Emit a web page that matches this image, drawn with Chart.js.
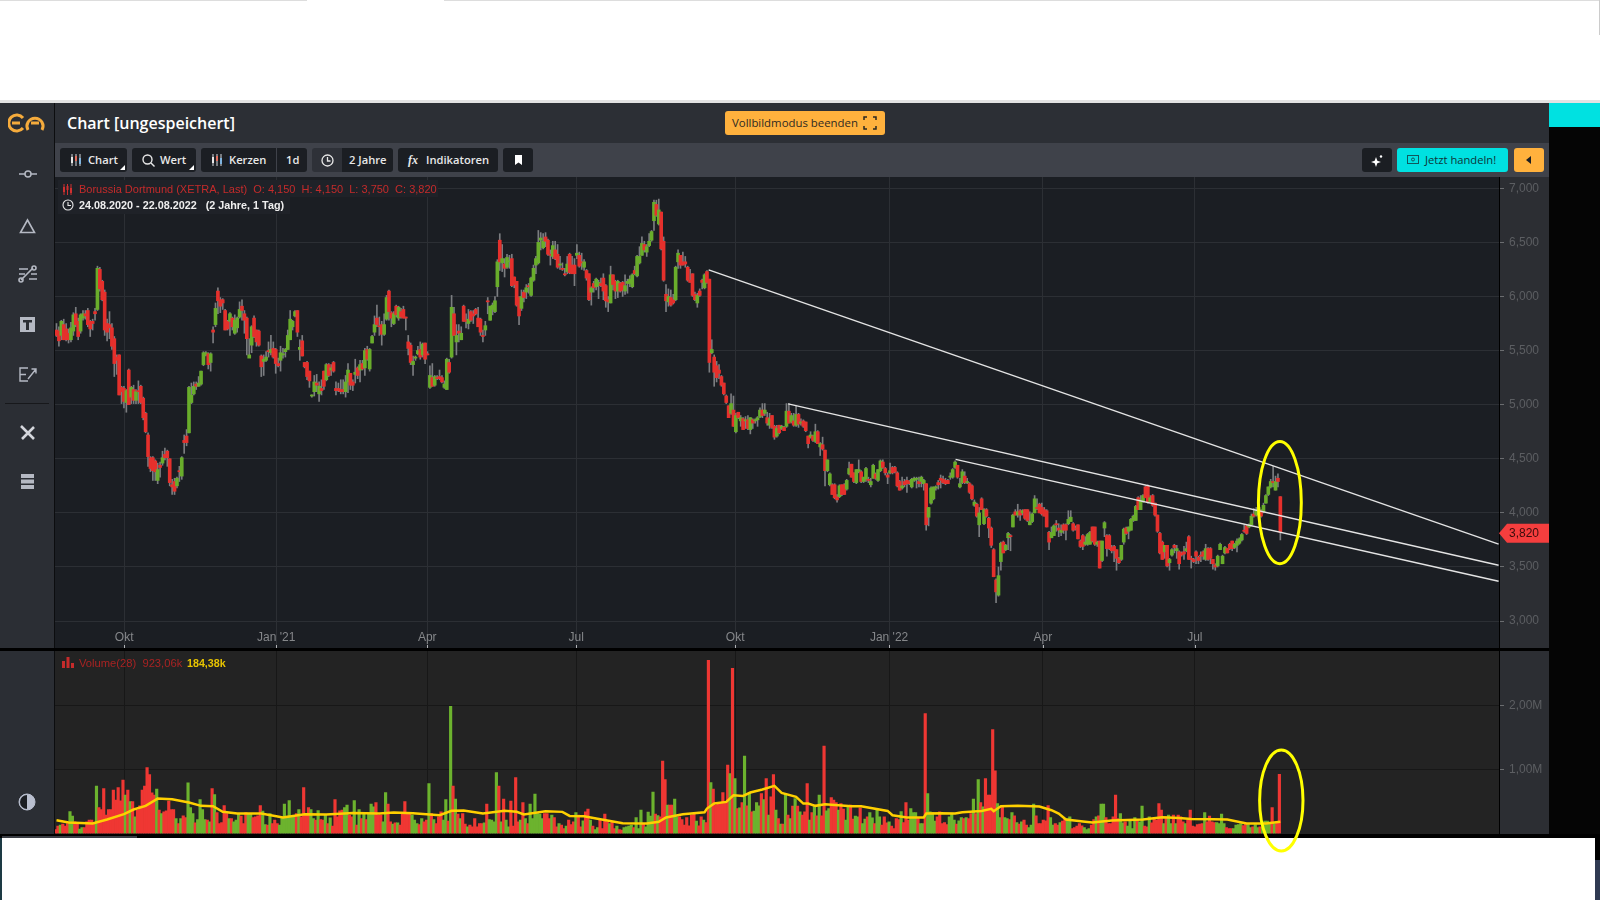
<!DOCTYPE html>
<html>
<head>
<meta charset="utf-8">
<title>Borussia Dortmund</title>
<script src="https://cdn.jsdelivr.net/npm/chart.js@4"></script>
<style>
    html, body { margin: 0; padding: 0; background: #fff; overflow: hidden; }
    body { width: 1600px; height: 900px; position: relative; font-family: "Liberation Sans", Arial, sans-serif; }
    .box { position: absolute; }
    .btn { position: absolute; top: 148px; height: 24px; line-height: 24px; background: #1b1e23; color: #e8e8e8; border-radius: 3px;
           font: 600 11.2px/24px "Open Sans", sans-serif; box-sizing: border-box; white-space: nowrap; }
    .btn svg, .side svg { position: absolute; }
    .corner::after { content: ""; position: absolute; right: 2px; bottom: 2px; border-left: 5px solid transparent; border-bottom: 5px solid #fff; }
    .lab { position: absolute; white-space: pre; }
    canvas { position: absolute; }
</style>
</head>
<body>

<!-- page frame -->
<div class="box" style="left:0;top:0;width:307px;height:1px;background:#ddd"></div>
<div class="box" style="left:444px;top:0;width:1156px;height:1px;background:#ddd"></div>
<div class="box" style="left:1599px;top:0;width:1px;height:35px;background:#ccc"></div>
<div class="box" style="left:0;top:100px;width:1600px;height:3px;background:#e2e2e2"></div>
<div class="box" style="left:54px;top:103px;width:1495px;height:40px;background:#2c2f35"></div>
<div class="box" style="left:54px;top:143px;width:1495px;height:34px;background:#3f424a"></div>
<div class="box" style="left:1549px;top:103px;width:51px;height:735px;background:#050505"></div>
<div class="box" style="left:1549px;top:103px;width:51px;height:24px;background:#00e1e1"></div>
<div class="box" style="left:0;top:103px;width:54px;height:731px;background:#2b2e34"></div>
<div class="box" style="left:54px;top:103px;width:1px;height:731px;background:#0c0d0f"></div>
<div class="box" style="left:55px;top:177px;width:1444px;height:471px;background:#1b1e23"></div>
<div class="box" style="left:1499px;top:177px;width:50px;height:471px;background:#2c2e33"></div>
<div class="box" style="left:0;top:648px;width:1549px;height:3px;background:#000"></div>
<div class="box" style="left:55px;top:651px;width:1444px;height:183px;background:#232323"></div>
<div class="box" style="left:1499px;top:651px;width:50px;height:183px;background:#2c2e33"></div>
<div class="box" style="left:0;top:834px;width:1600px;height:4px;background:#000"></div>
<div class="box" style="left:2px;top:836px;width:135px;height:2px;background:#3a3d44"></div>
<div class="box" style="left:0;top:838px;width:2px;height:62px;background:#1d3a44"></div>
<div class="box" style="left:1595px;top:838px;width:5px;height:22px;background:#000"></div>
<div class="box" style="left:1595px;top:860px;width:5px;height:40px;background:#2f3a52"></div>

<!-- side bar -->
<div class="side">
    <svg style="left:8px;top:113px" width="38" height="20" viewBox="0 0 38 20" fill="none" stroke="#f5ab3c" stroke-width="3">
        <path d="M15 5 A8 8 0 1 0 15 15 M4 10 H12"/><path d="M20 17 A8 8 0 1 1 34 17 M23 10 H31"/>
    </svg>
    <svg style="left:18px;top:168px" width="20" height="12" fill="none" stroke="#b5b9c3" stroke-width="1.5"><path d="M1 6H7M13 6H19"/><circle cx="10" cy="6" r="3"/></svg>
    <svg style="left:19px;top:218px" width="17" height="16" fill="none" stroke="#b5b9c3" stroke-width="1.6"><path d="M8.5 2 L15.5 14.5 H1.5 Z"/></svg>
    <svg style="left:18px;top:265px" width="20" height="18" fill="none" stroke="#b5b9c3" stroke-width="1.6"><path d="M1 4H10M1 9H7M11 14H19M13 9H19M3 15L15 3"/><circle cx="16" cy="3" r="2"/><circle cx="3" cy="15" r="2"/></svg>
    <svg style="left:20px;top:317px" width="15" height="15"><rect width="15" height="15" fill="#b5b9c3"/><path d="M3 3H12V5.5H9V13H6V5.5H3Z" fill="#2b2e34"/></svg>
    <svg style="left:19px;top:367px" width="18" height="15" fill="none" stroke="#b5b9c3" stroke-width="1.4"><path d="M9 1H1V14H9M1 7.5H7M9 12L17 2M12.5 2H17V6.5"/></svg>
    <div class="box" style="left:5px;top:403px;width:44px;height:1px;background:#17181b"></div>
    <svg style="left:19px;top:424px" width="17" height="17" fill="none" stroke="#d4d6dc" stroke-width="2.6"><path d="M2 2L15 15M15 3L3 15"/></svg>
    <svg style="left:21px;top:474px" width="13" height="15" fill="#b5b9c3"><rect width="13" height="4"/><rect y="5.5" width="13" height="4"/><rect y="11" width="13" height="4"/></svg>
    <svg style="left:18px;top:793px" width="18" height="18"><circle cx="9" cy="9" r="8" fill="#b9bfcf" stroke="#b9bfcf"/><path d="M9 2 A7 7 0 0 0 9 16 Z" fill="#1b1e23"/></svg>
</div>

<!-- header -->
<div class="lab" style="left:67px;top:111px;color:#fff;font:600 16px/24px 'Open Sans',sans-serif">Chart [ungespeichert]</div>
<div class="box" style="left:725px;top:111px;width:160px;height:24px;background:#ffb13d;border-radius:3px;color:#2f2a22;font:500 11.4px/24px 'Open Sans',sans-serif;text-indent:7px">Vollbildmodus beenden
    <svg style="position:absolute;left:138px;top:5px" width="14" height="14" fill="none" stroke="#2b2721" stroke-width="1.5"><path d="M1 4V1H4M10 1H13V4M13 10V13H10M4 13H1V10"/></svg>
</div>

<!-- tool bar -->
<svg width="0" height="0" style="position:absolute"><symbol id="candles" viewBox="0 0 12 12"><path d="M2 0V12M6 0V12M10 0V12" stroke="#d6d8de"/><path d="M1 3H3V9H1Z" fill="#e8e8e8"/><path d="M5 2H7V7H5Z" fill="#e06c5c"/><path d="M9 4H11V10H9Z" fill="#7fb4e0"/></symbol></svg>
<div class="btn corner" style="left:60px;width:67px;padding-left:28px"><svg style="left:10px;top:6px" width="12" height="12"><use href="#candles"/></svg>Chart</div>
<div class="btn corner" style="left:132px;width:64px;padding-left:28px"><svg style="left:10px;top:6px" width="13" height="13" fill="none" stroke="#e8e8e8" stroke-width="1.4"><circle cx="5.5" cy="5.5" r="4.5"/><path d="M9 9L12.5 12.5"/></svg>Wert</div>
<div class="btn" style="left:201px;width:76px;padding-left:28px;border-radius:3px 0 0 3px;border-right:1px solid #3f424a"><svg style="left:10px;top:6px" width="12" height="12"><use href="#candles"/></svg>Kerzen</div>
<div class="btn" style="left:277px;width:30px;padding-left:9px;border-radius:0 3px 3px 0">1d</div>
<div class="btn" style="left:312px;width:30px;background:#2e3138;border-radius:3px 0 0 3px"><svg style="left:9px;top:6px" width="13" height="13" fill="none" stroke="#e8e8e8" stroke-width="1.3"><circle cx="6.5" cy="6.5" r="5.5"/><path d="M6.5 3V7H9.5"/></svg></div>
<div class="btn" style="left:342px;width:51px;padding-left:7px;border-radius:0 3px 3px 0">2 Jahre</div>
<div class="btn" style="left:398px;width:100px;padding-left:28px"><span style="position:absolute;left:10px;font:italic 700 12px/24px 'Liberation Serif',serif">fx</span>Indikatoren</div>
<div class="btn" style="left:503px;width:30px"><svg style="left:12px;top:7px" width="7" height="10"><path d="M0 0H7V10L3.5 7.5L0 10Z" fill="#fff"/></svg></div>
<div class="btn" style="left:1362px;width:30px"><svg style="left:8px;top:6px" width="13" height="13" fill="#fff"><path d="M6 3L7.3 6.7L11 8L7.3 9.3L6 13L4.7 9.3L1 8L4.7 6.7Z"/><circle cx="11" cy="2.5" r="1.2"/></svg></div>
<div class="btn" style="left:1397px;width:111px;background:#00e1e1;color:#0f3438;padding-left:28px;font-weight:500"><svg style="left:10px;top:7px" width="12" height="10" fill="none" stroke="#10585c"><rect x=".5" y=".5" width="11" height="8"/><circle cx="6" cy="4.5" r="1.5"/></svg>Jetzt handeln!</div>
<div class="btn" style="left:1514px;width:30px;background:#ffb13d"><svg style="left:12px;top:8px" width="5" height="8"><path d="M5 0V8L0 4Z" fill="#1b1e23"/></svg></div>

<canvas id="price-chart" style="left:55px;top:177px;width:1494px;height:471px" width="1494" height="471"></canvas>
<canvas id="volume-chart" style="left:55px;top:651px;width:1494px;height:202px" width="1494" height="202"></canvas>

<!-- legends -->
<div class="box" style="left:58px;top:180px;width:380px;height:17px;background:#1f2228"></div>
<div class="box" style="left:58px;top:197px;width:232px;height:17px;background:#1f2228"></div>
<svg style="position:absolute;left:62px;top:184px" width="11" height="11"><path d="M2 0V11M5.5 0V11M9 0V11" stroke="#d03030"/><path d="M1 3H3V8H1ZM4.5 2H6.5V6H4.5ZM8 4H10V9H8Z" fill="#d03030"/></svg>
<div class="lab" style="left:79px;top:182px;color:#c52b2b;font:11px/14px 'Liberation Sans',sans-serif">Borussia Dortmund (XETRA, Last)  O: 4,150  H: 4,150  L: 3,750  C: 3,820</div>
<svg style="position:absolute;left:62px;top:199px" width="12" height="12" fill="none" stroke="#e8e8e8" stroke-width="1.1"><circle cx="6" cy="6" r="5"/><path d="M6 3V6.5H9"/></svg>
<div class="lab" style="left:79px;top:198px;color:#eee;font:700 10.8px/14px 'Liberation Sans',sans-serif">24.08.2020 - 22.08.2022   (2 Jahre, 1 Tag)</div>
<svg style="position:absolute;left:62px;top:657px" width="12" height="11" fill="#c52b2b"><rect y="4" width="3" height="7"/><rect x="4.5" width="3" height="11"/><rect x="9" y="6" width="3" height="5"/></svg>
<div class="lab" style="left:79px;top:656px;color:#a82323;font:11.2px/14px 'Liberation Sans',sans-serif">Volume(28)  923,06k</div>
<div class="lab" style="left:187px;top:656px;color:#e8c400;font:700 10.7px/14px 'Liberation Sans',sans-serif">184,38k</div>

<script>
// prices in cents, one entry per trading day from 24.08.2020 to 22.08.2022
const opens = [
    569,568,564,574,570,566,560,568,584,577, 568,580,584,587,577,577,586,588,625,614,
    604,575,574,571,561,544,546,516,515,502, 532,507,514,504,513,517,506,492,472,451,
    451,448,430,444,446,454,457,450,426,429, 425,439,434,467,471,474,502,510,519,517,
    519,537,546,547,539,569,574,605,597,597, 587,577,577,580,566,571,581,591,584,580,
    543,555,580,569,568,545,540,541,550,548, 552,551,538,541,546,549,551,560,572,582,
    587,551,559,539,539,531,508,512,520,510, 515,531,523,537,532,539,515,515,514,514,
    512,521,529,521,528,534,532,538,534,551, 533,557,567,580,573,574,565,579,605,585,
    575,591,580,586,588,581,558,555,537,543, 547,551,546,557,547,516,525,518,525,526,
    525,516,514,539,544,584,558,568,560,591, 578,575,586,584,588,580,579,564,569,596,
    578,588,586,609,652,631,630,627,632,635, 618,614,599,589,604,604,610,601,615,629,
    631,652,645,655,652,639,637,643,639,629, 626,621,623,639,629,629,638,638,632,627,
    624,621,604,612,609,610,612,617,610,597, 594,620,614,605,612,613,605,612,612,609,
    624,619,631,638,648,641,647,652,670,685, 667,678,651,602,595,599,597,597,632,638,
    632,632,627,615,621,602,594,605,615,608, 623,616,548,544,536,532,526,520,508,499,
    492,495,475,493,485,487,485,486,477,486, 485,486,489,495,492,488,481,490,480,471,
    481,478,479,480,494,484,485,481,491,483, 485,484,471,470,471,466,475,461,463,458,
    439,426,426,426,415,415,426,426,422,436, 445,437,428,438,438,429,431,431,426,432,
    436,430,439,447,441,435,437,442,442,437, 429,423,429,430,429,424,430,431,429,429,
    427,427,396,409,413,423,428,432,431,430, 430,433,433,442,444,424,428,434,428,427,
    425,407,408,389,413,390,403,395,386,366, 338,324,355,373,366,377,379,387,401,398,
    402,400,403,403,389,392,400,405,408,405, 403,402,382,377,379,390,386,382,389,389,
    390,392,390,386,389,374,379,371,371,371, 387,387,371,374,356,386,379,379,368,369,
    366,358,357,373,386,383,384,393,393,414, 403,410,424,425,410,416,409,398,381,373,
    364,370,354,361,370,365,364,363,364,365, 378,358,357,364,359,361,364,357,367,367,
    357,352,351,366,353,363,367,371,374,368, 370,372,375,384,388,387,389,399,398,401,
    402,401,409,417,424,429,421,432,415
];
const highs = [
    575,572,578,579,575,570,576,585,590,580, 584,587,587,589,578,579,589,628,627,615,
    606,579,586,575,563,546,546,517,517,514, 533,517,518,514,522,518,507,493,474,452,
    452,449,446,447,457,460,458,450,431,432, 433,443,452,472,477,517,520,521,521,526,
    531,549,549,548,548,572,594,608,599,598, 588,578,585,581,583,581,595,597,587,581,
    561,573,582,569,569,546,546,549,558,564, 558,552,543,554,552,552,569,587,578,587,
    587,560,564,539,540,531,509,527,528,521, 523,531,538,538,537,540,521,520,523,523,
    527,538,529,523,542,535,541,541,552,554, 552,564,582,592,581,577,584,601,606,586,
    586,592,591,589,591,581,564,557,545,545, 554,558,557,557,549,536,538,527,527,532,
    527,522,543,542,601,590,574,574,572,592, 584,588,587,587,589,590,580,569,577,599,
    591,594,600,634,658,648,635,639,638,639, 618,614,600,606,606,611,612,618,629,637,
    661,659,658,659,653,643,651,651,648,637, 631,626,637,640,637,635,648,641,640,634,
    625,621,609,614,617,615,617,621,611,600, 628,620,615,615,613,614,620,616,619,621,
    628,638,646,655,651,648,658,661,689,689, 690,678,655,611,607,606,602,628,643,638,
    641,637,628,625,621,604,603,607,616,621, 624,616,560,546,540,537,527,520,509,499,
    510,508,492,493,490,488,489,490,488,487, 487,489,497,501,501,493,492,490,481,481,
    481,481,480,501,501,492,492,499,492,487, 486,484,471,475,472,482,476,465,470,458,
    449,437,427,427,417,426,426,427,431,447, 445,437,440,449,439,433,442,433,432,445,
    437,440,449,449,442,437,446,443,443,438, 430,433,431,433,430,432,433,433,433,434,
    431,427,405,424,424,425,430,435,434,432, 431,437,441,448,444,432,440,438,432,428,
    426,412,409,405,414,404,404,396,387,367, 339,350,373,374,371,382,380,399,403,408,
    403,403,403,403,401,400,416,413,409,409, 405,403,383,387,389,393,390,389,390,390,
    402,402,391,388,389,375,380,378,381,383, 387,387,374,374,374,392,380,380,370,370,
    366,359,370,386,387,387,395,398,407,415, 416,417,425,426,416,417,409,398,382,374,
    370,370,358,367,371,370,365,364,369,373, 379,360,358,365,360,364,365,371,368,368,
    357,353,361,372,361,369,367,372,374,372, 376,377,381,389,389,390,399,404,405,406,
    403,409,417,424,431,443,434,436,415
];
const lows = [
    563,554,560,560,559,557,558,564,572,560, 566,578,579,572,563,569,578,587,605,596,
    564,559,561,551,526,528,509,501,497,493, 500,501,501,501,501,501,486,474,443,438,
    430,430,427,433,444,449,443,425,417,417, 423,429,431,455,462,474,501,509,514,517,
    518,536,545,533,531,557,572,584,585,588, 569,569,564,569,565,567,580,578,566,546,
    544,548,562,554,554,526,527,540,544,546, 543,529,535,531,543,544,551,560,569,581,
    563,541,545,534,523,516,507,508,512,503, 509,514,522,526,527,530,509,512,510,510,
    507,511,514,513,520,524,521,532,527,541, 531,557,564,572,564,555,564,578,578,572,
    574,581,578,580,580,569,546,537,527,541, 546,542,544,538,546,515,517,517,523,523,
    520,515,514,529,543,564,546,558,560,577, 571,570,577,575,583,572,564,558,564,584,
    578,583,585,600,624,623,618,626,626,609, 608,591,574,587,595,598,603,600,614,621,
    630,643,644,646,638,629,635,634,626,625, 624,619,621,621,621,610,635,627,625,624,
    615,596,592,604,606,598,609,597,590,586, 594,606,598,599,604,600,602,603,609,608,
    620,618,630,638,641,637,646,651,661,674, 666,643,614,586,591,591,593,596,626,626,
    629,627,614,613,600,596,590,600,607,607, 612,530,547,517,521,524,517,509,501,488,
    491,480,474,487,480,477,478,477,473,478, 483,480,488,488,490,481,478,478,468,470,
    473,477,476,479,483,483,480,480,479,481, 479,475,460,469,466,465,464,453,458,425,
    438,425,417,413,410,414,416,417,421,435, 433,428,427,437,428,428,429,428,424,432,
    431,429,438,441,435,427,436,436,437,424, 421,422,424,419,426,423,429,423,424,424,
    421,384,388,408,412,421,422,423,427,426, 427,431,432,441,432,423,427,427,427,418,
    412,406,396,378,403,389,396,377,368,341, 317,323,347,363,365,366,365,387,398,396,
    393,398,394,392,389,391,400,403,400,398, 397,387,366,377,379,383,378,379,381,375,
    389,392,383,384,376,368,366,370,370,371, 373,370,369,349,355,378,360,366,363,355,
    347,353,356,371,380,376,384,392,393,403, 403,410,414,409,410,406,397,382,362,357,
    358,350,347,360,363,358,348,360,357,364, 357,349,354,353,353,355,357,356,356,353,
    348,347,350,366,353,362,363,366,365,367, 364,371,374,382,380,386,388,396,397,400,
    396,400,409,416,423,424,421,424,375
];
const closes = [
    564,559,577,560,560,560,571,583,574,563, 583,584,582,574,570,575,584,626,607,597,
    569,567,571,554,538,541,509,512,503,513, 500,516,504,512,512,502,488,475,452,441,
    439,438,440,442,451,451,451,428,424,420, 432,438,451,465,465,516,509,517,517,520,
    531,548,548,537,547,567,589,596,591,594, 569,570,584,572,578,580,588,587,578,561,
    546,572,563,558,555,535,542,544,549,551, 544,538,536,548,547,551,564,579,577,586,
    567,553,545,535,526,522,509,521,518,517, 513,517,537,527,534,531,513,513,512,512,
    521,532,518,518,530,527,537,533,550,542, 551,563,574,574,572,565,574,599,586,580,
    584,583,590,581,580,580,552,539,540,544, 550,544,556,542,546,527,517,526,524,524,
    521,519,542,530,590,564,564,566,566,577, 577,579,578,582,584,572,567,563,573,595,
    591,592,596,632,632,635,626,636,633,610, 611,592,582,600,599,608,609,617,626,635,
    650,654,651,651,639,638,647,635,627,630, 625,620,630,622,621,621,640,628,631,632,
    617,597,608,608,616,613,610,605,596,595, 620,611,605,614,605,606,610,614,616,620,
    621,637,637,649,643,646,651,660,687,675, 680,644,615,596,600,592,594,627,640,629,
    629,630,615,613,601,597,601,601,613,620, 613,539,551,530,525,529,518,510,502,488,
    501,480,490,488,488,477,486,478,488,483, 486,488,495,490,495,483,487,479,470,478,
    474,480,476,494,483,490,481,491,482,484, 480,476,464,472,467,475,464,464,459,439,
    449,436,417,414,412,425,417,417,430,441, 433,429,440,440,429,433,441,430,429,444,
    432,440,448,442,437,433,439,437,438,425, 421,425,426,427,427,431,432,432,427,433,
    430,389,405,423,424,424,426,430,428,427, 427,434,440,447,433,427,438,428,429,419,
    413,410,397,400,403,403,397,386,370,341, 327,342,372,363,370,381,378,398,398,401,
    398,402,395,393,392,399,413,404,400,399, 397,387,373,382,388,389,384,384,384,384,
    394,396,384,385,376,369,369,373,380,382, 374,371,373,349,374,391,367,367,365,365,
    358,354,370,385,381,387,394,397,406,403, 412,416,414,410,414,407,398,383,363,357,
    370,351,357,366,368,367,353,361,362,367, 357,357,355,360,356,360,360,367,357,358,
    353,350,360,371,360,368,363,367,367,371, 374,376,380,383,381,389,397,397,402,405,
    397,407,416,424,429,428,429,429,382
];
// daily volume in thousands
const volumes = [
    62,115,130,146,115,156,344,271,182,167, 68,94,94,182,208,208,156,740,406,375,
    703,286,375,375,677,521,719,510,833,599, 677,500,500,260,365,432,677,740,1031,922,
    635,599,693,365,312,339,354,505,375,375, 234,156,234,276,250,792,406,312,167,219,
    531,375,219,208,182,703,609,328,156,172, 437,312,234,234,182,208,312,271,156,328,
    312,312,250,260,276,437,349,141,130,312, 156,208,156,130,260,458,271,516,260,260,
    312,375,260,719,312,406,375,234,208,359, 219,208,286,156,245,115,531,260,354,365,
    406,443,286,260,516,130,375,234,312,219, 302,458,417,484,286,286,182,641,458,182,
    146,167,167,130,312,500,312,312,286,208, 156,141,234,182,208,781,312,219,156,260,
    339,208,531,193,1989,740,536,302,234,312, 146,104,130,104,234,104,156,156,167,458,
    219,208,182,953,740,182,536,208,104,505, 115,875,182,208,484,234,156,458,234,615,
    312,302,234,312,312,234,286,250,104,156, 130,78,115,208,141,182,328,286,104,198,
    339,380,208,115,62,94,208,78,302,182, 156,182,78,115,62,52,94,104,115,130,
    94,250,78,365,146,104,333,271,646,302, 281,260,1130,844,443,443,443,536,260,260,
    219,130,250,120,286,302,193,120,260,208, 172,2708,797,693,443,469,469,641,484,1068,
    937,2583,859,391,401,484,1208,432,625,339, 349,484,432,625,531,859,286,573,922,365,
    234,146,146,625,286,234,427,547,427,339, 286,339,781,208,328,443,276,599,276,1365,
    354,391,562,521,484,365,469,380,208,417, 443,224,271,260,401,156,224,260,328,245,
    156,365,260,130,260,167,182,115,78,234, 219,344,172,484,208,391,328,328,245,156,
    156,1875,625,339,328,193,260,339,156,172, 141,260,312,208,146,198,250,234,250,234,
    312,536,312,844,484,417,859,599,599,1625, 979,469,250,417,250,234,219,328,276,172,
    146,182,208,130,94,130,458,276,156,156, 208,198,437,250,130,156,130,172,193,234,
    234,260,78,94,115,156,120,94,62,78, 130,219,260,276,458,458,250,156,156,260,
    599,234,312,167,182,115,193,78,250,208, 182,427,115,104,260,167,234,208,469,365,
    156,260,286,156,286,156,286,260,182,156, 208,365,115,104,141,146,156,328,182,271,
    182,172,172,156,302,156,94,78,78,78, 130,141,156,125,156,141,94,104,141,94,
    104,104,193,193,156,406,156,182,923
];

// Volume(28) line, read at turning points: candle index and value in thousands
const averageDays = [0,5,15,21,28,32,37,42,48,55,60,65,69,75,85,94,103,112,123,134,140,148,159,164,169,177,186,191,194,203,
    210,213,219,224,235,245,250,253,260,269,270,273,278,281,285,288,293,298,301,307,310,312,315,319,330,334,345,347,353,360,361,
    367,373,376,384,388,389,392,399,408,413,416,419,427,430,438,451,459,466,471,480,486,494,502,508];
const averageVolumes = [208,172,156,219,302,375,432,546,536,484,432,427,339,312,312,250,302,297,322,312,328,317,286,354,359,312,354,339,297,348,
    338,275,270,234,161,156,182,250,302,333,390,468,494,598,588,640,687,744,635,572,468,468,432,458,426,426,353,286,250,250,312,
    317,312,333,353,385,348,426,432,421,364,312,218,182,171,202,218,255,244,228,223,218,156,156,184];

const priceTicks = [700,650,600,550,500,450,400,350,300];
const priceTickLabels = ["7,000","6,500","6,000","5,500","5,000","4,500","4,000","3,500","3,000"];
const volumeTicks = [1000,2000];
const volumeTickLabels = ["1,00M","2,00M"];
const monthTicks = [28.1,91.2,153.9,215.7,281.7,345.6,409.4,472.5];
const monthLabels = ["Okt","Jan '21","Apr","Jul","Okt","Jan '22","Apr","Jul"];

// drawn trend lines: candle index and price
const trendOneDays = [270.7,598.6], trendOnePrices = [624.5,371.2];
const trendTwoDays = [303.7,598.6], trendTwoPrices = [500.7,351.6];
const trendThreeDays = [373.2,598.6], trendThreePrices = [449.5,336.8];

// yellow rings: centre day, half width in days, top and bottom value
const priceRing = { day: 507.8, halfDays: 8.9, top: 466, bottom: 353 };
const volumeRing = { day: 508.4, halfDays: 9, top: 1305, bottom: -273 };

if (new Set([opens.length, highs.length, lows.length, closes.length, volumes.length]).size !== 1 || averageDays.length !== averageVolumes.length) {
    throw new Error("lengths " + [opens.length, highs.length, lows.length, closes.length, volumes.length, averageDays.length, averageVolumes.length]);
}

const UP = "#69ad2b", DOWN = "#e5302c", WICK = "#7b7d80";
const barColors = opens.map((o, i) => closes[i] >= o ? UP : DOWN);
const volumeColors = opens.map((o, i) => closes[i] >= o ? "#6cb32e" : "#ef3733");
const GRID = "#2c2f34", VOLUME_GRID = "#171717";

function ringPlugin(ring) {
    return {
        id: "ring",
        afterDraw(chart) {
            const x = chart.scales.x, y = chart.scales.y, ctx = chart.ctx;
            const top = y.getPixelForValue(ring.top), bottom = y.getPixelForValue(ring.bottom);
            const cx = x.getPixelForValue(ring.day);
            const rx = x.getPixelForValue(ring.day + ring.halfDays) - cx;
            ctx.save();
            ctx.strokeStyle = "#ffff00";
            ctx.lineWidth = 3;
            ctx.beginPath();
            ctx.ellipse(cx, (top + bottom) / 2, rx, (bottom - top) / 2, 0, 0, Math.PI * 2);
            ctx.stroke();
            ctx.restore();
        }
    };
}

// little month marks at the foot of the price panel, black axis edge down to the panel end
const monthMarks = {
    id: "monthMarks",
    afterDraw(chart) {
        const ctx = chart.ctx, x = chart.scales.x, area = chart.chartArea;
        ctx.save();
        ctx.fillStyle = "#b0b2b5";
        monthTicks.forEach(v => ctx.fillRect(Math.round(x.getPixelForValue(v)), chart.height - 3, 1, 3));
        ctx.fillStyle = "#000";
        ctx.fillRect(area.right, area.bottom, 1, chart.height - area.bottom);
        ctx.restore();
    }
};

// the red tag with the last close on the price axis
const lastCloseTag = {
    id: "lastCloseTag",
    afterDraw(chart) {
        const ctx = chart.ctx, area = chart.chartArea;
        const y = chart.scales.y.getPixelForValue(closes[closes.length - 1]) + 1;
        ctx.save();
        ctx.fillStyle = "#f53e3e";
        ctx.beginPath();
        ctx.moveTo(area.right, y);
        ctx.lineTo(area.right + 8, y - 9.5);
        ctx.lineTo(area.right + 50, y - 9.5);
        ctx.lineTo(area.right + 50, y + 9.5);
        ctx.lineTo(area.right + 8, y + 9.5);
        ctx.closePath();
        ctx.fill();
        ctx.fillStyle = "#3a0c0c";
        ctx.font = "12px 'Liberation Sans'";
        ctx.textBaseline = "middle";
        ctx.fillText("3,820", area.right + 10, y);
        ctx.restore();
    }
};

function trendLine(days, prices) {
    return {
        type: "line",
        data: days.map((d, i) => ({ x: d, y: prices[i] })),
        borderColor: "#e4e4e4",
        borderWidth: 1.4,
        pointRadius: 0,
        order: 0
    };
}

function indexAxis(footHeight, gridColor) {
    return {
        type: "linear",
        min: -0.62,
        max: 598.76,
        offset: false,
        afterBuildTicks: scale => { scale.ticks = monthTicks.map(v => ({ value: v })); },
        afterFit: scale => {
            scale.height = footHeight;
            scale.paddingLeft = scale.paddingRight = 0;
        },
        // the tick marks run on below the plot so the grid reaches the end of the panel
        grid: { color: gridColor, tickColor: gridColor, offset: false, drawTicks: footHeight > 0, tickLength: footHeight },
        border: { display: false },
        ticks: {
            display: footHeight > 0,
            autoSkip: false,
            maxRotation: 0,
            padding: -17.5,
            color: "#85878a",
            font: { family: "Liberation Sans", size: 12 },
            callback: value => monthLabels[monthTicks.indexOf(value)]
        }
    };
}

function valueAxis(min, max, ticks, labels, gridColor) {
    return {
        position: "right",
        min: min,
        max: max,
        afterBuildTicks: scale => { scale.ticks = ticks.map(v => ({ value: v })); },
        afterFit: scale => {
            scale.width = 50;
            scale.paddingTop = scale.paddingBottom = 0;
        },
        grid: { color: gridColor, tickColor: "#6b6d70", tickLength: 5 },
        border: { color: "#000" },
        ticks: {
            autoSkip: false,
            padding: 5,
            color: "#5c5e62",
            font: { family: "Liberation Sans", size: 12 },
            callback: value => labels[ticks.indexOf(value)]
        }
    };
}

new Chart(document.getElementById("price-chart"), {
    type: "bar",
    data: {
        datasets: [
            trendLine(trendOneDays, trendOnePrices),
            trendLine(trendTwoDays, trendTwoPrices),
            trendLine(trendThreeDays, trendThreePrices),
            {
                data: opens.map((o, i) => ({ x: i, y: [o, closes[i]] })),
                backgroundColor: barColors,
                barThickness: 3,
                minBarLength: 1,
                grouped: false,
                order: 1
            },
            {
                data: highs.map((h, i) => ({ x: i, y: [lows[i], h] })),
                backgroundColor: WICK,
                barThickness: 1,
                grouped: false,
                order: 2
            }
        ]
    },
    options: {
        responsive: false,
        animation: false,
        events: [],
        layout: { autoPadding: false, padding: 0 },
        plugins: { legend: { display: false }, tooltip: { enabled: false } },
        scales: {
            x: indexAxis(19, GRID),
            y: valueAxis(292.7, 710.4, priceTicks, priceTickLabels, GRID)
        }
    },
    plugins: [monthMarks, lastCloseTag, ringPlugin(priceRing)]
});

new Chart(document.getElementById("volume-chart"), {
    type: "bar",
    data: {
        datasets: [
            {
                type: "line",
                data: averageDays.map((d, i) => ({ x: d, y: averageVolumes[i] })),
                borderColor: "#ffd000",
                borderWidth: 2.5,
                pointRadius: 0,
                order: 0
            },
            {
                // the volume bars sit a pixel left of their candles in the source
                data: volumes.map((v, i) => ({ x: i - 0.4, y: v })),
                backgroundColor: volumeColors,
                barThickness: 2.5,
                grouped: false,
                order: 1
            }
        ]
    },
    options: {
        responsive: false,
        animation: false,
        events: [],
        layout: { autoPadding: false, padding: { bottom: 19.5 } },
        plugins: { legend: { display: false }, tooltip: { enabled: false } },
        scales: {
            x: indexAxis(0, VOLUME_GRID),
            y: valueAxis(0, 2852, volumeTicks, volumeTickLabels, VOLUME_GRID)
        }
    },
    plugins: [ringPlugin(volumeRing)]
});
</script>
</body>
</html>
